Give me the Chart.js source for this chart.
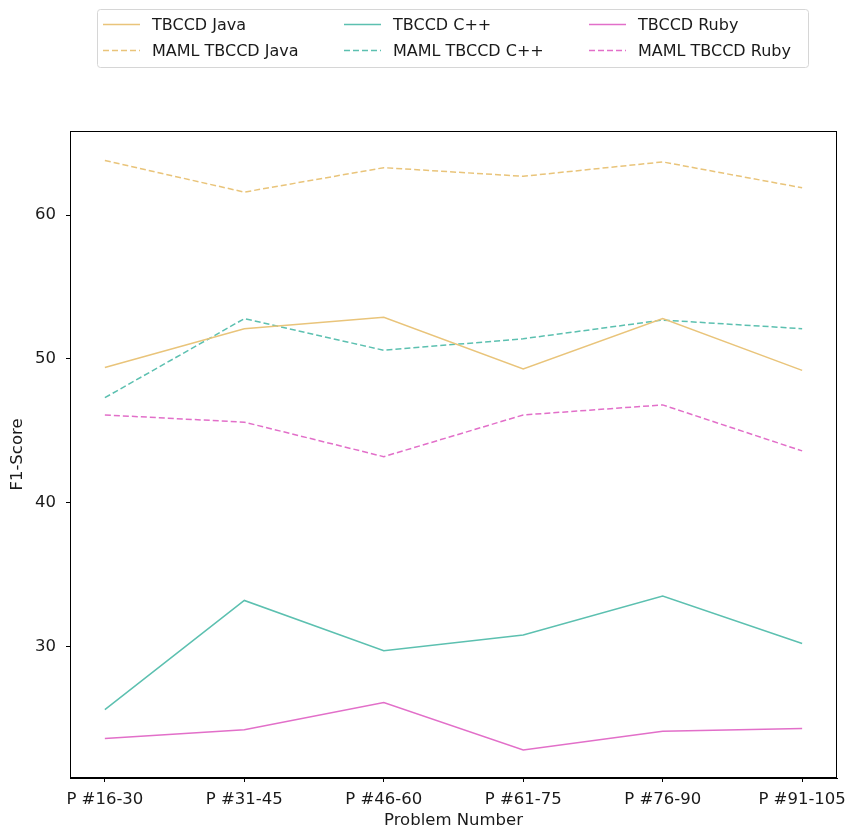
<!DOCTYPE html>
<html>
<head>
<meta charset="utf-8">
<script src="https://cdn.jsdelivr.net/npm/chart.js@4"></script>
<style>
  html, body { margin: 0; padding: 0; background: #fff; }
  #wrap { width: 847px; height: 828px; position: relative; }
</style>
</head>
<body>
<div id="wrap"><canvas id="myChart"></canvas></div>
<script>
const labels = ["P #16-30", "P #31-45", "P #46-60", "P #61-75", "P #76-90", "P #91-105"];
const yTicks = [30, 40, 50, 60];

const tbccdJava = [49.4, 52.1, 52.9, 49.3, 52.8, 49.2];
const mamlJava = [63.8, 61.6, 63.3, 62.7, 63.7, 61.9];
const tbccdCpp = [25.6, 33.2, 29.7, 30.8, 33.5, 30.2];
const mamlCpp = [47.3, 52.8, 50.6, 51.4, 52.7, 52.1];
const tbccdRuby = [23.6, 24.2, 26.1, 22.8, 24.1, 24.3];
const mamlRuby = [46.1, 45.6, 43.2, 46.1, 46.8, 43.6];

const javaColor = "#e9c47a";
const cppColor = "#5cc0b0";
const rubyColor = "#e26fc9";

function toPoints(values) {
  return values.map((v, i) => ({ x: i, y: v }));
}

function makeSet(label, values, color, dashed) {
  return {
    label: label,
    data: toPoints(values),
    borderColor: color,
    backgroundColor: color,
    borderWidth: 1.5,
    borderDash: dashed ? [6, 3] : [],
    pointRadius: 0,
    tension: 0,
    fill: false,
  };
}

// legend drawn like the matplotlib one: 3 columns, 2 rows
const legendBox = {
  id: "legendBox",
  afterDraw(chart) {
    const ctx = chart.ctx;
    ctx.save();
    ctx.fillStyle = "rgba(255,255,255,0.8)";
    ctx.strokeStyle = "#d6d6d6";
    ctx.lineWidth = 1;
    ctx.beginPath();
    ctx.roundRect(97.5, 9.5, 711, 58, 3);
    ctx.fill();
    ctx.stroke();

    const cols = [103, 344, 589];
    const rows = [24.5, 50.5];
    ctx.font = "16px 'DejaVu Sans'";
    ctx.textBaseline = "middle";
    ctx.fillStyle = "#1a1a1a";
    // dataset order: java, maml java, c++, maml c++, ruby, maml ruby
    chart.data.datasets.forEach((ds, i) => {
      const x = cols[Math.floor(i / 2)];
      const y = rows[i % 2];
      ctx.strokeStyle = ds.borderColor;
      ctx.lineWidth = 1.5;
      ctx.setLineDash(ds.borderDash);
      ctx.beginPath();
      ctx.moveTo(x, y);
      ctx.lineTo(x + 37, y);
      ctx.stroke();
      ctx.setLineDash([]);
      ctx.fillText(ds.label, x + 49, y + 1);
    });
    ctx.restore();
  },
};

const frame = {
  id: "frame",
  afterDraw(chart) {
    const a = chart.chartArea;
    const ctx = chart.ctx;
    ctx.save();
    ctx.strokeStyle = "#000";
    ctx.lineWidth = 1;
    ctx.strokeRect(a.left + 0.5, a.top + 0.5, a.right - a.left - 1, a.bottom - a.top - 1);
    ctx.restore();
  },
};

const data = {
  datasets: [
    makeSet("TBCCD Java", tbccdJava, javaColor, false),
    makeSet("MAML TBCCD Java", mamlJava, javaColor, true),
    makeSet("TBCCD C++", tbccdCpp, cppColor, false),
    makeSet("MAML TBCCD C++", mamlCpp, cppColor, true),
    makeSet("TBCCD Ruby", tbccdRuby, rubyColor, false),
    makeSet("MAML TBCCD Ruby", mamlRuby, rubyColor, true),
  ],
};

const tickFont = { family: "'DejaVu Sans'", size: 16.5 };

const config = {
  type: "line",
  data: data,
  plugins: [legendBox, frame],
  options: {
    responsive: true,
    maintainAspectRatio: false,
    animation: false,
    layout: { padding: { top: 131, right: 10, left: 0, bottom: 0 } },
    plugins: {
      legend: { display: false },
      tooltip: { enabled: false },
    },
    scales: {
      x: {
        type: "linear",
        min: -0.25,
        max: 5.25,
        afterBuildTicks: (scale) => {
          scale.ticks = labels.map((l, i) => ({ value: i }));
        },
        afterFit: (scale) => {
          scale.height = 50;
          scale.paddingLeft = 0;
          scale.paddingRight = 0;
        },
        ticks: {
          color: "#1a1a1a",
          font: tickFont,
          padding: 8,
          maxRotation: 0,
          autoSkip: false,
          callback: (v) => labels[v],
        },
        grid: { drawOnChartArea: false, tickLength: 4, tickColor: "#000" },
        border: { display: true, color: "#000" },
        title: {
          display: true,
          text: "Problem Number",
          color: "#1a1a1a",
          font: tickFont,
          padding: { top: 0, bottom: -3 },
        },
      },
      y: {
        min: 20.85,
        max: 65.85,
        afterBuildTicks: (scale) => {
          scale.ticks = yTicks.map((v) => ({ value: v }));
        },
        afterFit: (scale) => {
          scale.width = 70;
          scale.paddingTop = 0;
          scale.paddingBottom = 0;
        },
        ticks: { color: "#1a1a1a", font: tickFont, padding: 10 },
        grid: { drawOnChartArea: false, tickLength: 4, tickColor: "#000" },
        border: { display: true, color: "#000" },
        title: {
          display: true,
          text: "F1-Score",
          color: "#1a1a1a",
          font: tickFont,
          padding: { top: 8, bottom: 0 },
        },
      },
    },
  },
};

const myChart = new Chart(document.getElementById("myChart"), config);
</script>
</body>
</html>
